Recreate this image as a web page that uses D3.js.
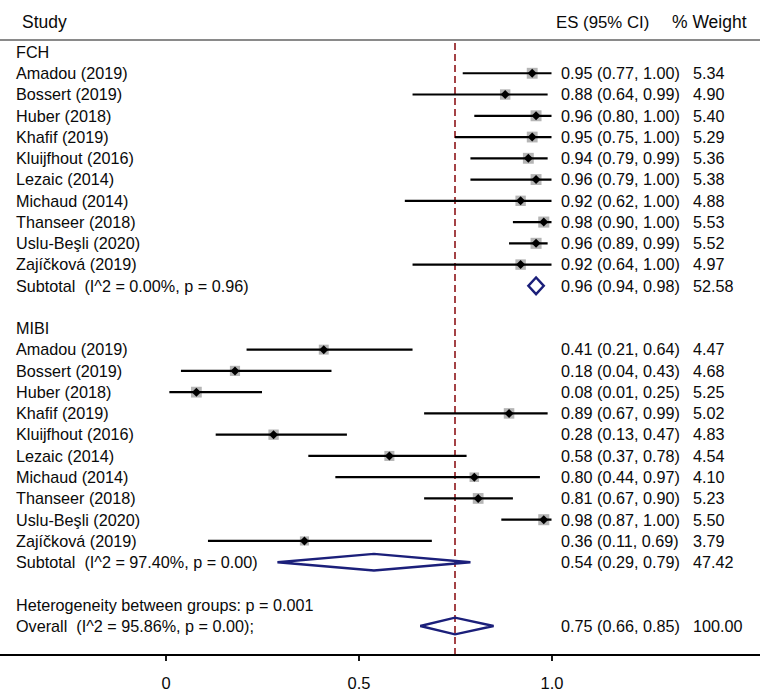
<!DOCTYPE html>
<html>
<head>
<meta charset="utf-8">
<script src="https://cdn.jsdelivr.net/npm/d3@7"></script>
<style>
  html, body { margin: 0; padding: 0; background: #fff; }
  svg { display: block; font-family: "Liberation Sans", Arial, Helvetica, sans-serif; }
  svg text { white-space: pre; }
</style>
</head>
<body>
<svg id="chart" width="760" height="697"></svg>
<script>
// ---- data ----
const studies = ["Amadou (2019)", "Bossert (2019)", "Huber (2018)", "Khafif (2019)", "Kluijfhout (2016)",
                 "Lezaic (2014)", "Michaud (2014)", "Thanseer (2018)", "Uslu-Beşli (2020)", "Zajíčková (2019)"];
const groups = ["FCH", "MIBI"];
const fchES  = [0.95, 0.88, 0.96, 0.95, 0.94, 0.96, 0.92, 0.98, 0.96, 0.92];
const fchLo  = [0.77, 0.64, 0.80, 0.75, 0.79, 0.79, 0.62, 0.90, 0.89, 0.64];
const fchHi  = [1.00, 0.99, 1.00, 1.00, 0.99, 1.00, 1.00, 1.00, 0.99, 1.00];
const fchW   = [5.34, 4.90, 5.40, 5.29, 5.36, 5.38, 4.88, 5.53, 5.52, 4.97];
const mibiES = [0.41, 0.18, 0.08, 0.89, 0.28, 0.58, 0.80, 0.81, 0.98, 0.36];
const mibiLo = [0.21, 0.04, 0.01, 0.67, 0.13, 0.37, 0.44, 0.67, 0.87, 0.11];
const mibiHi = [0.64, 0.43, 0.25, 0.99, 0.47, 0.78, 0.97, 0.90, 1.00, 0.69];
const mibiW  = [4.47, 4.68, 5.25, 5.02, 4.83, 4.54, 4.10, 5.23, 5.50, 3.79];
const subtotalLabels = ["Subtotal  (I^2 = 0.00%, p = 0.96)", "Subtotal  (I^2 = 97.40%, p = 0.00)"];
const subtotalES = [0.96, 0.54];
const subtotalLo = [0.94, 0.29];
const subtotalHi = [0.98, 0.79];
const subtotalW  = [52.58, 47.42];
const heterogeneityLabel = "Heterogeneity between groups: p = 0.001";
const overallLabel = "Overall  (I^2 = 95.86%, p = 0.00);";
const overallES = 0.75, overallLo = 0.66, overallHi = 0.85, overallW = 100.00;
const tickValues = [0, 0.5, 1];
const tickLabels = ["0", "0.5", "1.0"];

// ---- layout ----
const W = 760, H = 697;
const svg = d3.select("#chart");
const x = d3.scaleLinear().domain([0, 1]).range([165.5, 551.5]);
const y = d3.scaleLinear().domain([0, 27]).range([52, 626]);
const fs = 16.2, baseOff = 5.8;
const esX = 561, wX = 693;
const navy = "#1b1f7a";
const txt = "#0a0a0a";
const fmt2 = d3.format(".2f");
const ciText = (e, l, h) => `${fmt2(e)} (${fmt2(l)}, ${fmt2(h)})`;

// build rows
const rows = [];
let r = 0;
const allES = [fchES, mibiES], allLo = [fchLo, mibiLo], allHi = [fchHi, mibiHi], allW = [fchW, mibiW];
groups.forEach((g, gi) => {
  rows.push({type: "head", label: g, row: r++});
  studies.forEach((s, i) => rows.push({type: "study", label: s, row: r++, es: allES[gi][i], lo: allLo[gi][i], hi: allHi[gi][i], w: allW[gi][i]}));
  rows.push({type: "sub", label: subtotalLabels[gi], row: r++, es: subtotalES[gi], lo: subtotalLo[gi], hi: subtotalHi[gi], w: subtotalW[gi]});
  r++; // blank
});
rows.push({type: "het", label: heterogeneityLabel, row: r++});
rows.push({type: "sub", label: overallLabel, row: r++, es: overallES, lo: overallLo, hi: overallHi, w: overallW});

// header
svg.append("text").attr("x", 22).attr("y", 28).attr("font-size", 17.5).attr("fill", txt).text("Study");
svg.append("text").attr("x", 556).attr("y", 28).attr("font-size", 16.8).attr("fill", txt).text("ES (95% CI)");
svg.append("text").attr("x", 672).attr("y", 28).attr("font-size", 17.5).attr("fill", txt).text("% Weight");
svg.append("line").attr("x1", 0).attr("x2", W).attr("y1", 40).attr("y2", 40)
   .attr("stroke", "#8a8a8a").attr("stroke-width", 2.2);

// reference dashed line
svg.append("line").attr("x1", x(overallES)).attr("x2", x(overallES)).attr("y1", 43).attr("y2", 655)
   .attr("stroke", "#8e1418").attr("stroke-width", 1.6).attr("stroke-dasharray", "7,4");

// labels
svg.selectAll("text.lab").data(rows).join("text").attr("class", "lab")
   .attr("x", 16).attr("y", d => y(d.row) + baseOff).attr("font-size", fs).attr("fill", txt)
   .text(d => d.label);

// ES / weight text
const est = rows.filter(d => d.es !== undefined);
svg.selectAll("text.es").data(est).join("text").attr("class", "es")
   .attr("x", esX).attr("y", d => y(d.row) + baseOff).attr("font-size", fs).attr("fill", txt)
   .text(d => ciText(d.es, d.lo, d.hi));
svg.selectAll("text.wt").data(est).join("text").attr("class", "wt")
   .attr("x", wX).attr("y", d => y(d.row) + baseOff).attr("font-size", fs).attr("fill", txt)
   .text(d => fmt2(d.w));

// study markers
const st = rows.filter(d => d.type === "study");
svg.selectAll("rect.box").data(st).join("rect").attr("class", "box")
   .attr("x", d => x(d.es) - 2.35 * Math.sqrt(d.w)).attr("y", d => y(d.row) - 2.35 * Math.sqrt(d.w))
   .attr("width", d => 4.7 * Math.sqrt(d.w)).attr("height", d => 4.7 * Math.sqrt(d.w))
   .attr("fill", "#b5b5b5");
svg.selectAll("line.ci").data(st).join("line").attr("class", "ci")
   .attr("x1", d => x(d.lo)).attr("x2", d => x(d.hi)).attr("y1", d => y(d.row)).attr("y2", d => y(d.row))
   .attr("stroke", "#000").attr("stroke-width", 2.2);
svg.selectAll("path.pt").data(st).join("path").attr("class", "pt")
   .attr("d", d => { const cx = x(d.es), cy = y(d.row), s = 4.5; return `M${cx - s},${cy}L${cx},${cy - s}L${cx + s},${cy}L${cx},${cy + s}Z`; })
   .attr("fill", "#000");

// pooled diamonds
const sub = rows.filter(d => d.type === "sub");
svg.selectAll("path.dia").data(sub).join("path").attr("class", "dia")
   .attr("d", d => { const cy = y(d.row), h = 8.3; return `M${x(d.lo)},${cy}L${x(d.es)},${cy - h}L${x(d.hi)},${cy}L${x(d.es)},${cy + h}Z`; })
   .attr("fill", "none").attr("stroke", navy).attr("stroke-width", 2.4).attr("stroke-linejoin", "miter");

// axis
const axisY = 655;
svg.append("line").attr("x1", 0).attr("x2", W).attr("y1", axisY).attr("y2", axisY).attr("stroke", "#000").attr("stroke-width", 1.8);
const axis = d3.axisBottom(x).tickValues(tickValues).tickFormat((d, i) => tickLabels[i]).tickSize(6).tickPadding(16);
const ag = svg.append("g").attr("transform", `translate(0,${axisY})`).call(axis);
ag.select(".domain").remove();
ag.selectAll(".tick line").attr("stroke", "#000").attr("stroke-width", 1.8);
ag.selectAll(".tick text").attr("font-size", 16.5).attr("fill", txt).attr("font-family", "Liberation Sans, Arial, sans-serif");
</script>
</body>
</html>
